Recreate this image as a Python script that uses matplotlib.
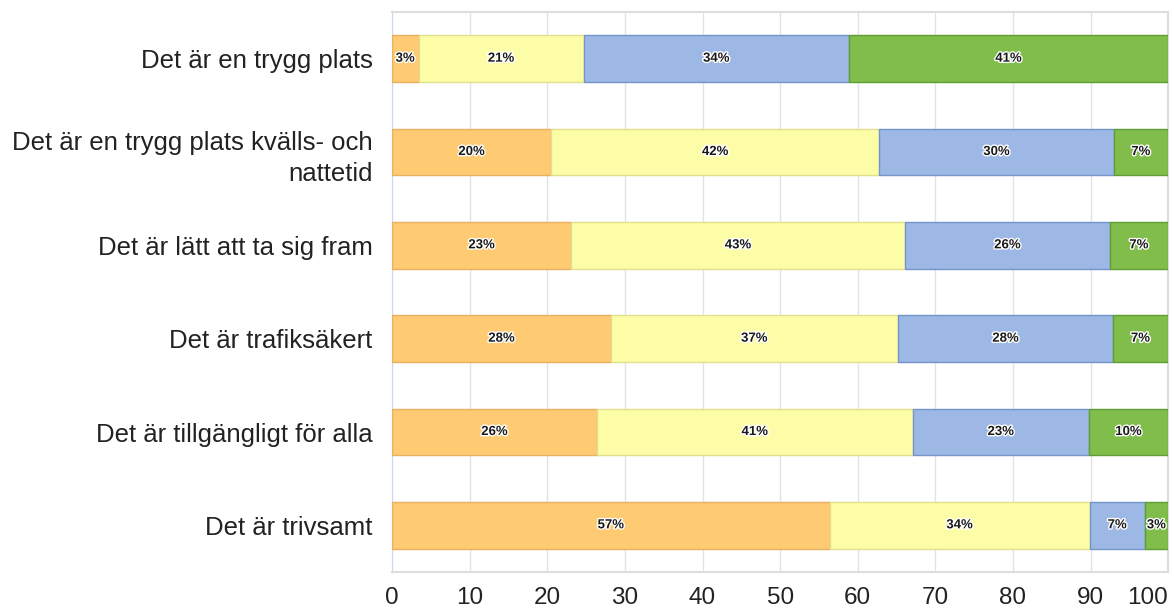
import numpy as np
import matplotlib.pyplot as plt
import matplotlib.patheffects as pe

plt.rcParams['font.family'] = ['Liberation Sans', 'DejaVu Sans']

# categories, top to bottom
categories = ['Det är en trygg plats',
              'Det är en trygg plats kvälls- och\nnattetid',
              'Det är lätt att ta sig fram',
              'Det är trafiksäkert',
              'Det är tillgängligt för alla',
              'Det är trivsamt']

# series values (percent)
s1 = [3.4, 20.5, 23.1, 28.2, 26.4, 56.4]   # orange
s2 = [21.3, 42.3, 43.0, 37.0, 40.7, 33.5]  # yellow
s3 = [34.2, 30.2, 26.4, 27.7, 22.7, 7.1]   # blue
s4 = [41.1, 7.0, 7.5, 7.1, 10.2, 3.0]      # green

labels1 = ['3%', '20%', '23%', '28%', '26%', '57%']
labels2 = ['21%', '42%', '43%', '37%', '41%', '34%']
labels3 = ['34%', '30%', '26%', '28%', '23%', '7%']
labels4 = ['41%', '7%', '7%', '7%', '10%', '3%']

fills = ['#FECB72', '#FDFDA8', '#9DB8E4', '#80BD4B']
edges = ['#E8B060', '#E2DF8E', '#7494CA', '#5E9E36']

fig = plt.figure(figsize=(11.74, 6.10), dpi=100)
ax = fig.add_axes([0.334, 0.0623, 0.661, 0.918])

y = np.arange(len(categories))
left = np.zeros(len(categories))
for vals, labs, fc, ec in zip([s1, s2, s3, s4], [labels1, labels2, labels3, labels4], fills, edges):
    vals = np.array(vals)
    bars = ax.barh(y, vals, left=left, height=0.5, color=fc, edgecolor=ec, linewidth=1, zorder=3)
    for b, lab in zip(bars, labs):
        t = ax.text(b.get_x() + b.get_width() / 2, b.get_y() + b.get_height() / 2, lab,
                    ha='center', va='center', fontsize=9.5, fontweight='bold', color='#1a1a1a',
                    zorder=4)
        t.set_path_effects([pe.withStroke(linewidth=2, foreground='white')])
    left += vals

ax.set_xlim(0, 100)
ax.set_ylim(len(categories) - 0.5, -0.5)
ax.set_xticks(np.arange(0, 101, 10))
ax.set_yticks(y)
ax.set_yticklabels(categories, fontsize=18.5, color='#222222', linespacing=1.4)
ax.tick_params(axis='x', labelsize=17.5, labelcolor='#222222', length=0, pad=11)
ax.tick_params(axis='y', length=0, pad=14)
# keep the last tick label inside the figure
ax.get_xticklabels()[-1].set_horizontalalignment('right')
ax.grid(axis='x', color='#E3E3E3', linewidth=1, zorder=0)
for side in ['top', 'right', 'bottom']:
    ax.spines[side].set_color('#DDDDDD')
    ax.spines[side].set_linewidth(1.5)
ax.spines['left'].set_color('#C8D8EE')

plt.savefig('out.png', dpi=100)
